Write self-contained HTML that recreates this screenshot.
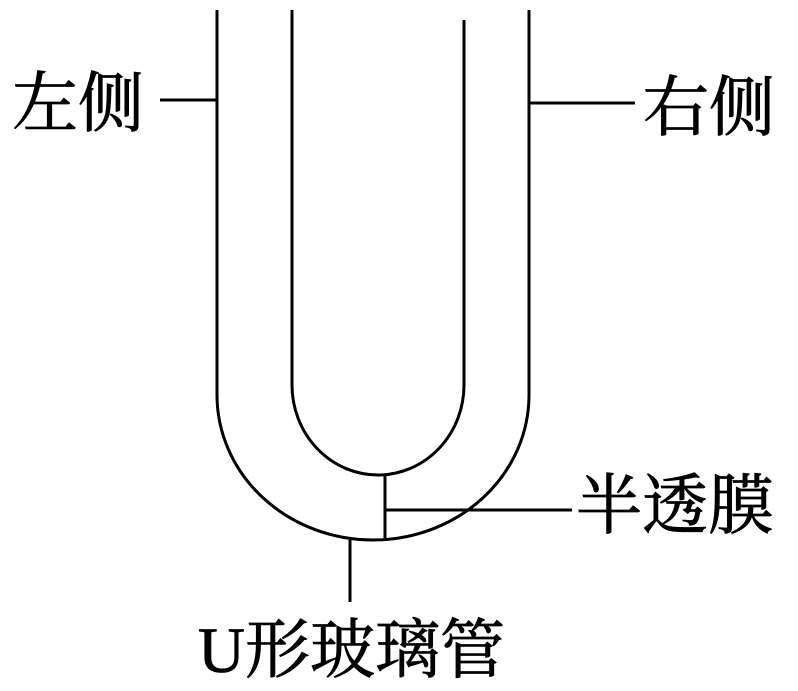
<!DOCTYPE html>
<html><head><meta charset="utf-8"><style>
html,body{margin:0;padding:0;background:#fff;}
svg{display:block}
text{font-family:"Liberation Serif","Noto Serif CJK SC",serif;fill:#000}
</style></head><body>
<svg width="798" height="691" viewBox="0 0 798 691" xmlns="http://www.w3.org/2000/svg">
<g fill="none" stroke="#000" stroke-width="3">
<path d="M217 10 L217 395 A156 145 0 0 0 529 395 L529 10"/>
<path d="M292 10 L292 385 A86 90 0 0 0 464 385 L464 20"/>
<line x1="385" y1="476" x2="385" y2="540"/>
<line x1="385" y1="510" x2="572" y2="510"/>
<line x1="160" y1="100" x2="217" y2="100"/>
<line x1="529" y1="103" x2="635" y2="103"/>
<line x1="350" y1="540" x2="350" y2="602"/>
</g>
<g stroke="#000" stroke-width="0.8">
<text x="12" y="126" font-size="66">左侧</text>
<text x="643" y="130" font-size="66">右侧</text>
<text x="576" y="528" font-size="66">半透膜</text>
<text x="198" y="672" font-size="65">U形玻璃管</text>
</g>
</svg>
</body></html>
